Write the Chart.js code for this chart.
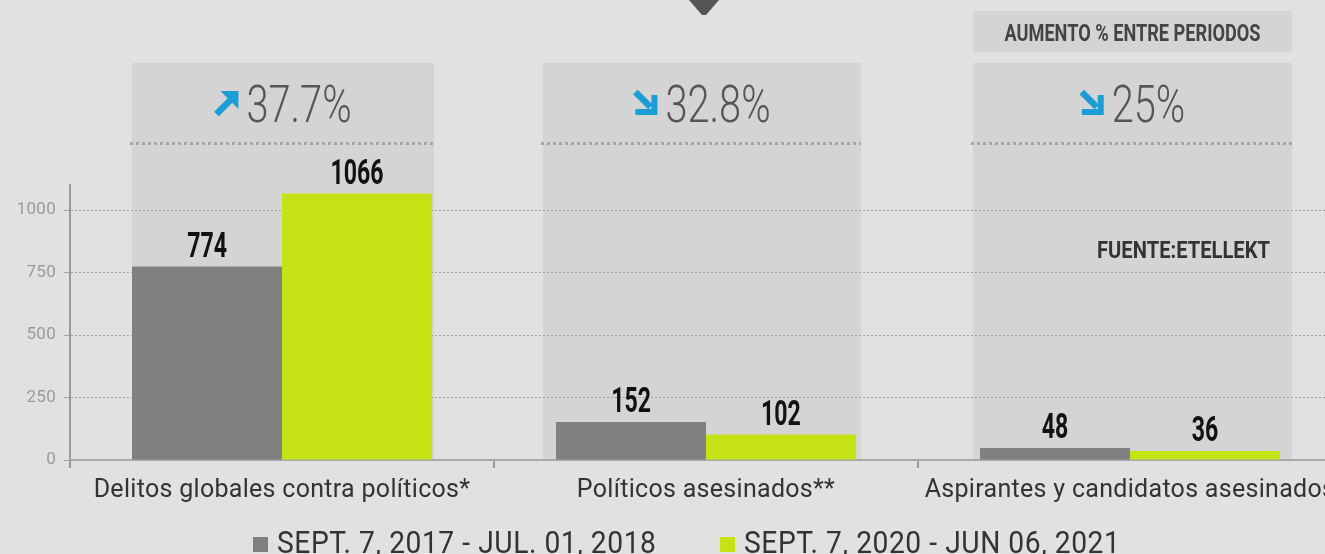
<!DOCTYPE html>
<html lang="es">
<head>
<meta charset="utf-8">
<script src="https://cdn.jsdelivr.net/npm/chart.js@4.4.1/dist/chart.umd.min.js"></script>
<style>
  body { margin: 0; background: #e1e1e1; overflow: hidden; width: 1325px; height: 554px; }
  #marco { position: relative; width: 1350px; height: 554px; }
  #grafico { position: absolute; left: 0; top: 0; }
  .item {
    position: absolute; top: 527px; height: 31px; line-height: 31px;
    font-family: Roboto, 'Liberation Sans', sans-serif;
    font-size: 31px; letter-spacing: 0.6px; color: #333; white-space: nowrap;
    padding-left: 24px;
  }
  .item span { display: inline-block; transform: scaleX(0.91); transform-origin: left center; }
  .item i { position: absolute; left: 0; top: 10px; width: 15px; height: 15px; }
</style>
</head>
<body>
<div id="marco">
  <canvas id="grafico" width="1350" height="554"></canvas>
  <div id="leyenda"></div>
</div>
<script>
// datos del gráfico
const categorias = ['Delitos globales contra políticos*', 'Políticos asesinados**', 'Aspirantes y candidatos asesinados'];
const periodo2018 = [774, 152, 48];
const periodo2021 = [1066, 102, 36];
const etiquetasPeriodos = ['SEPT. 7, 2017 - JUL. 01, 2018', 'SEPT. 7, 2020 - JUN 06, 2021'];
const variaciones = ['37.7%', '32.8%', '25%'];
const tendencias = ['sube', 'baja', 'baja'];
const ticksY = [0, 250, 500, 750, 1000];

const GRIS = '#808080';
const VERDE = '#c5e214';
const PANEL = '#d4d4d4';
const AZUL = '#1b9dd5';
const FUENTE = "Roboto, 'Liberation Sans', sans-serif";

// margen extra (izq, der) de cada panel respecto a sus barras
const margenPanel = [[0, 2], [13, 5], [7, 12]];

// texto condensado (se escala en horizontal)
function textoAngosto(ctx, txt, x, y, font, color, sx, align) {
    ctx.save();
    ctx.letterSpacing = '0px';
    ctx.font = font;
    ctx.fillStyle = color;
    ctx.textBaseline = 'alphabetic';
    ctx.textAlign = align || 'center';
    ctx.translate(x, y);
    ctx.scale(sx, 1);
    ctx.fillText(txt, 0, 0);
    ctx.restore();
}

function anchoAngosto(ctx, txt, font, sx) {
    ctx.save();
    ctx.letterSpacing = '0px';
    ctx.font = font;
    const w = ctx.measureText(txt).width * sx;
    ctx.restore();
    return w;
}

// bordes del panel gris de cada categoría (a partir de las barras)
function limitesPanel(chart, i) {
    const a = chart.getDatasetMeta(0).data[i];
    const b = chart.getDatasetMeta(1).data[i];
    return [a.x - a.width / 2 - margenPanel[i][0], b.x + b.width / 2 + margenPanel[i][1]];
}

function flecha(ctx, x, y, tipo) {
    ctx.save();
    ctx.strokeStyle = AZUL;
    ctx.fillStyle = AZUL;
    ctx.lineWidth = 6.5;
    ctx.lineCap = 'butt';
    ctx.beginPath();
    if (tipo === 'sube') {
        ctx.moveTo(x + 2, y + 23); ctx.lineTo(x + 17, y + 8);
        ctx.stroke();
        ctx.beginPath();
        ctx.moveTo(x + 6, y); ctx.lineTo(x + 24, y); ctx.lineTo(x + 24, y + 18);
        ctx.closePath();
        ctx.fill();
    } else {
        ctx.moveTo(x + 2, y + 1); ctx.lineTo(x + 17, y + 16);
        ctx.stroke();
        ctx.beginPath();
        ctx.moveTo(x + 2, y + 24); ctx.lineTo(x + 24, y + 24); ctx.lineTo(x + 24, y + 4);
        ctx.lineTo(x + 18, y + 4); ctx.lineTo(x + 18, y + 18); ctx.lineTo(x + 2, y + 18);
        ctx.closePath();
        ctx.fill();
    }
    ctx.restore();
}

// espaciado de letras para los textos de Chart.js
const espaciado = {
    id: 'espaciado',
    beforeUpdate(chart) { chart.ctx.letterSpacing = '0.3px'; },
    beforeDraw(chart) { chart.ctx.letterSpacing = '0.3px'; }
};

const decoracion = {
    id: 'decoracion',
    beforeDraw(chart) {
        const ctx = chart.ctx;
        const abajo = chart.chartArea.bottom;

        // triángulo superior
        const cx = chart.scales.x.getPixelForValue(1) - 2;
        ctx.save();
        ctx.fillStyle = '#555';
        ctx.beginPath();
        ctx.moveTo(cx - 15, 0); ctx.lineTo(cx + 15, 0); ctx.lineTo(cx + 2, 15); ctx.lineTo(cx - 2, 15);
        ctx.closePath();
        ctx.fill();
        ctx.restore();

        categorias.forEach((_, i) => {
            const [x0, x1] = limitesPanel(chart, i);
            ctx.save();
            ctx.fillStyle = PANEL;
            ctx.fillRect(x0, 63, x1 - x0, abajo - 63);

            // línea punteada bajo el porcentaje
            ctx.strokeStyle = '#a6a6a6';
            ctx.lineWidth = 3;
            ctx.setLineDash([3, 3]);
            ctx.beginPath();
            ctx.moveTo(x0 - 2, 143.5); ctx.lineTo(x1, 143.5);
            ctx.stroke();
            ctx.restore();

            // flecha + porcentaje
            const font = `300 51px ${FUENTE}`;
            const w = anchoAngosto(ctx, variaciones[i], font, 0.78);
            const total = 24 + 8 + w;
            const inicio = (x0 + x1) / 2 - total / 2;
            flecha(ctx, inicio, 91, tendencias[i]);
            textoAngosto(ctx, variaciones[i], inicio + 32, 122, font, '#555', 0.78, 'left');
        });

        // caja "AUMENTO % ENTRE PERIODOS"
        const [a0, a1] = limitesPanel(chart, 2);
        ctx.save();
        ctx.fillStyle = PANEL;
        ctx.fillRect(a0, 11, a1 - a0, 41);
        ctx.restore();
        textoAngosto(ctx, 'AUMENTO % ENTRE PERIODOS', (a0 + a1) / 2, 41, `bold 23px ${FUENTE}`, '#444', 0.79);
    },
    afterDatasetsDraw(chart) {
        const ctx = chart.ctx;
        chart.data.datasets.forEach((ds, d) => {
            chart.getDatasetMeta(d).data.forEach((bar, i) => {
                textoAngosto(ctx, String(ds.data[i]), bar.x, bar.y - 10, `bold 35px ${FUENTE}`, '#111', 0.66);
            });
        });
        const [, b1] = limitesPanel(chart, 2);
        textoAngosto(ctx, 'FUENTE:ETELLEKT', b1 - 22, 258, `bold 24px ${FUENTE}`, '#333', 0.84, 'right');
    }
};

const grafico = new Chart(document.getElementById('grafico'), {
    type: 'bar',
    data: {
        labels: categorias,
        datasets: [
            { label: etiquetasPeriodos[0], data: periodo2018, backgroundColor: GRIS, categoryPercentage: 0.7075, barPercentage: 1 },
            { label: etiquetasPeriodos[1], data: periodo2021, backgroundColor: VERDE, categoryPercentage: 0.7075, barPercentage: 1 }
        ]
    },
    options: {
        responsive: false,
        animation: false,
        devicePixelRatio: 1,
        layout: { padding: { left: 0, right: 8, top: 185, bottom: 39 } },
        plugins: { legend: { display: false }, tooltip: { enabled: false } },
        scales: {
            x: {
                grid: { drawOnChartArea: false, tickLength: 8, color: '#9a9a9a', lineWidth: 2 },
                border: { color: '#a8a8a8', width: 2 },
                ticks: { color: '#333', font: { family: FUENTE, size: 25 }, padding: 8, maxRotation: 0, autoSkip: false },
                afterFit(s) {
                    s.height = 55;
                    s.paddingLeft = 0;
                    s.paddingRight = 0;
                }
            },
            y: {
                min: 0,
                max: 1100,
                afterBuildTicks(s) { s.ticks = ticksY.map(v => ({ value: v })); },
                grid: { color: '#a3a3a3', lineWidth: 1, tickLength: 6 },
                border: { color: '#9a9a9a', width: 2, dash: [2, 2] },
                ticks: {
                    color: '#9a9a9a',
                    font: { family: FUENTE, size: 17 },
                    padding: 8,
                    callback: v => String(v)
                },
                afterFit(s) { s.width = 70; }
            }
        }
    },
    plugins: [espaciado, decoracion]
});

// leyenda en HTML con los colores de las series
const posLeyenda = [253, 720];
grafico.data.datasets.forEach((ds, i) => {
    const item = document.createElement('div');
    item.className = 'item';
    item.style.left = posLeyenda[i] + 'px';
    item.innerHTML = `<i style="background:${ds.backgroundColor}"></i><span>${ds.label}</span>`;
    document.getElementById('leyenda').appendChild(item);
});
</script>
</body>
</html>
